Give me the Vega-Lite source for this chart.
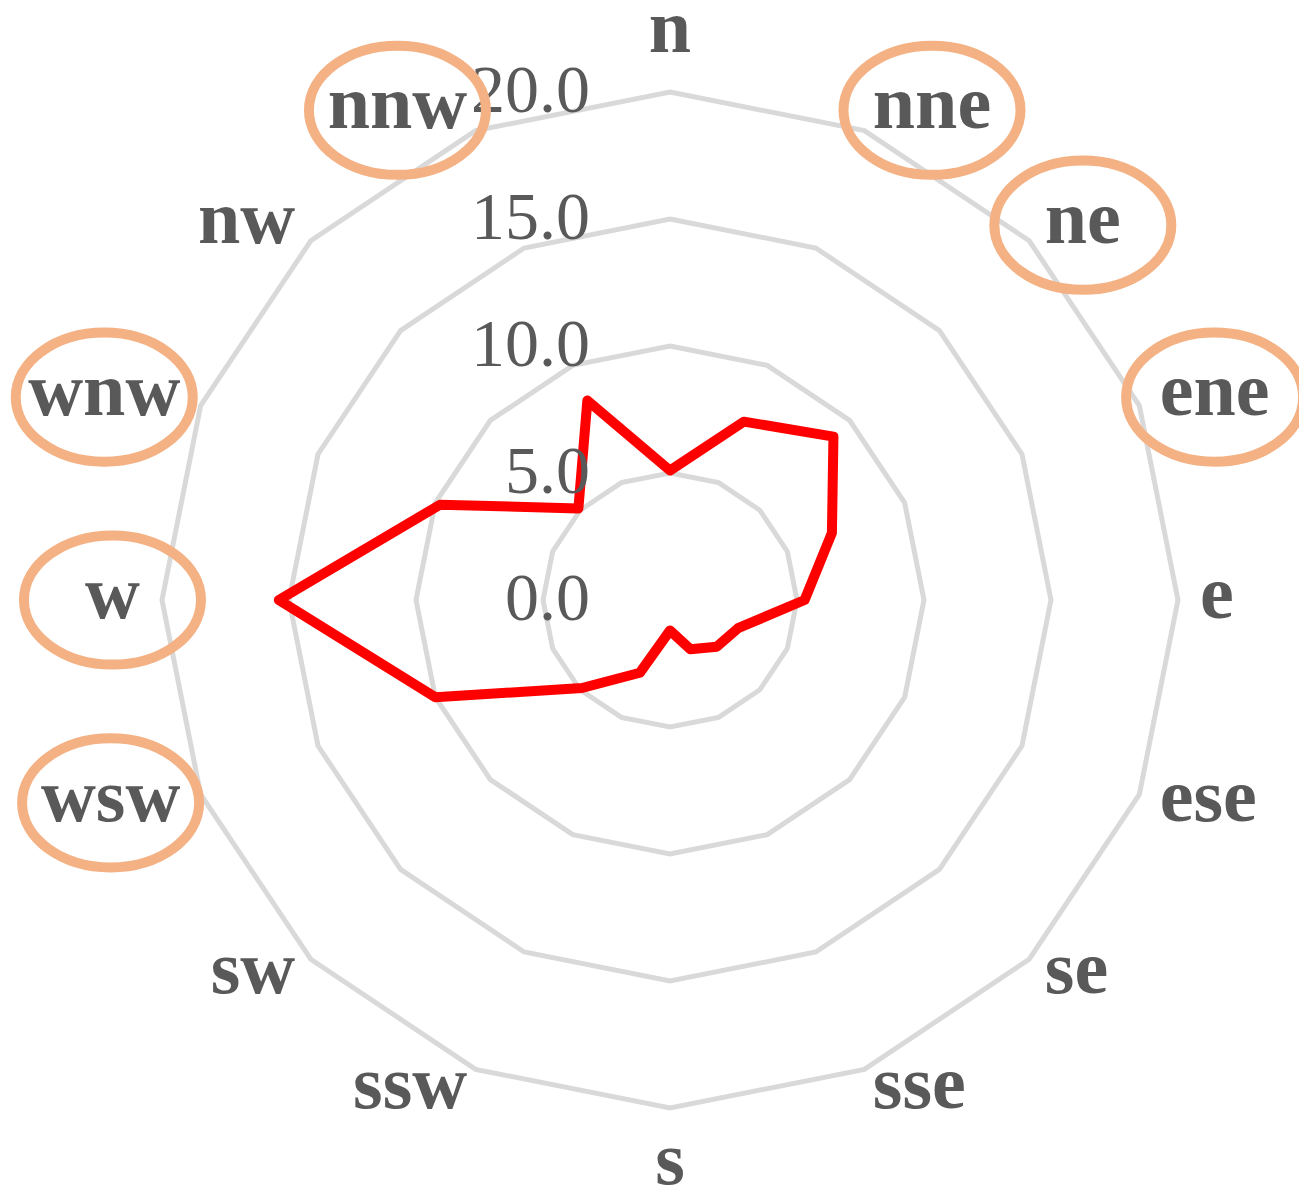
{
  "$schema": "https://vega.github.io/schema/vega-lite/v6.json",
  "width": 1299,
  "height": 1198,
  "autosize": {"type": "none"},
  "padding": 0,
  "background": "white",
  "config": {"view": {"stroke": null}},
  "datasets": {
    "dirs": [
      {"dir": "n", "i": 0, "v": 5.1, "hl": false},
      {"dir": "nne", "i": 1, "v": 7.6, "hl": true},
      {"dir": "ne", "i": 2, "v": 9.1, "hl": true},
      {"dir": "ene", "i": 3, "v": 6.9, "hl": true},
      {"dir": "e", "i": 4, "v": 5.3, "hl": false},
      {"dir": "ese", "i": 5, "v": 2.9, "hl": false},
      {"dir": "se", "i": 6, "v": 2.6, "hl": false},
      {"dir": "sse", "i": 7, "v": 2.1, "hl": false},
      {"dir": "s", "i": 8, "v": 1.2, "hl": false},
      {"dir": "ssw", "i": 9, "v": 3.1, "hl": false},
      {"dir": "sw", "i": 10, "v": 4.9, "hl": false},
      {"dir": "wsw", "i": 11, "v": 10.0, "hl": true},
      {"dir": "w", "i": 12, "v": 15.4, "hl": true},
      {"dir": "wnw", "i": 13, "v": 9.8, "hl": true},
      {"dir": "nw", "i": 14, "v": 5.1, "hl": false},
      {"dir": "nnw", "i": 15, "v": 8.5, "hl": true}
    ],
    "rings": [
      {"ring": 5, "i": [0,1,2,3,4,5,6,7,8,9,10,11,12,13,14,15]},
      {"ring": 10, "i": [0,1,2,3,4,5,6,7,8,9,10,11,12,13,14,15]},
      {"ring": 15, "i": [0,1,2,3,4,5,6,7,8,9,10,11,12,13,14,15]},
      {"ring": 20, "i": [0,1,2,3,4,5,6,7,8,9,10,11,12,13,14,15]}
    ],
    "ticks": [{"t": 0}, {"t": 5}, {"t": 10}, {"t": 15}, {"t": 20}]
  },
  "layer": [
    {
      "data": {"name": "rings"},
      "transform": [
        {"flatten": ["i"]},
        {"calculate": "datum.ring*sin(datum.i*PI/8)", "as": "gx"},
        {"calculate": "datum.ring*cos(datum.i*PI/8)", "as": "gy"}
      ],
      "mark": {"type": "line", "interpolate": "linear-closed", "color": "#D9D9D9", "strokeWidth": 5},
      "encoding": {
        "x": {"field": "gx", "type": "quantitative", "axis": null, "scale": {"domain": [-26.378, 24.764], "nice": false, "zero": false}},
        "y": {"field": "gy", "type": "quantitative", "axis": null, "scale": {"domain": [-23.543, 23.622], "nice": false, "zero": false}},
        "detail": {"field": "ring", "type": "nominal"},
        "order": {"field": "i", "type": "quantitative"}
      }
    },
    {
      "data": {"name": "dirs"},
      "transform": [
        {"calculate": "datum.v*sin(datum.i*PI/8)", "as": "px"},
        {"calculate": "datum.v*cos(datum.i*PI/8)", "as": "py"}
      ],
      "mark": {"type": "line", "interpolate": "linear-closed", "color": "#FF0000", "strokeWidth": 10, "strokeJoin": "round"},
      "encoding": {
        "x": {"field": "px", "type": "quantitative", "axis": null, "scale": {"domain": [-26.378, 24.764], "nice": false, "zero": false}},
        "y": {"field": "py", "type": "quantitative", "axis": null, "scale": {"domain": [-23.543, 23.622], "nice": false, "zero": false}},
        "order": {"field": "i", "type": "quantitative"}
      }
    },
    {
      "data": {"name": "ticks"},
      "mark": {"type": "text", "align": "right", "baseline": "middle", "dx": -80, "fontSize": 68, "font": "Liberation Serif", "color": "#595959"},
      "encoding": {
        "x": {"datum": 0, "type": "quantitative", "axis": null, "scale": {"domain": [-26.378, 24.764], "nice": false, "zero": false}},
        "y": {"field": "t", "type": "quantitative", "axis": null, "scale": {"domain": [-23.543, 23.622], "nice": false, "zero": false}},
        "text": {"field": "t", "type": "quantitative", "format": ".1f"}
      }
    },
    {
      "data": {"name": "dirs"},
      "transform": [
        {"filter": "datum.hl"},
        {"calculate": "(length(replace(datum.dir,regexp('[^w]','g'),''))*0.722+length(replace(datum.dir,regexp('[^n]','g'),''))*0.556+length(replace(datum.dir,regexp('[^e]','g'),''))*0.444+length(replace(datum.dir,regexp('[^s]','g'),''))*0.389)*38/25.4", "as": "hw"},
        {"calculate": "sin(datum.i*PI/8)", "as": "sx"},
        {"calculate": "datum.sx>0.01?1:(datum.sx<-0.01?-1:0)", "as": "side"},
        {"calculate": "20.87*datum.sx+datum.side*datum.hw", "as": "lx"},
        {"calculate": "(datum.side==0?22.56:20.87)*cos(datum.i*PI/8)", "as": "ly"}
      ],
      "mark": {"type": "point", "filled": false, "color": "#F4B183", "opacity": 1, "strokeWidth": 10, "size": 31329, "shape": "M-1,0C-1,-0.403,-0.552,-0.73,0,-0.73C0.552,-0.73,1,-0.403,1,0C1,0.403,0.552,0.73,0,0.73C-0.552,0.73,-1,0.403,-1,0Z"},
      "encoding": {
        "x": {"field": "lx", "type": "quantitative", "axis": null, "scale": {"domain": [-26.378, 24.764], "nice": false, "zero": false}},
        "y": {"field": "ly", "type": "quantitative", "axis": null, "scale": {"domain": [-23.543, 23.622], "nice": false, "zero": false}}
      }
    },
    {
      "data": {"name": "dirs"},
      "transform": [
        {"calculate": "(length(replace(datum.dir,regexp('[^w]','g'),''))*0.722+length(replace(datum.dir,regexp('[^n]','g'),''))*0.556+length(replace(datum.dir,regexp('[^e]','g'),''))*0.444+length(replace(datum.dir,regexp('[^s]','g'),''))*0.389)*38/25.4", "as": "hw"},
        {"calculate": "sin(datum.i*PI/8)", "as": "sx"},
        {"calculate": "datum.sx>0.01?1:(datum.sx<-0.01?-1:0)", "as": "side"},
        {"calculate": "20.87*datum.sx+datum.side*datum.hw", "as": "lx"},
        {"calculate": "(datum.side==0?22.3:20.87)*cos(datum.i*PI/8)", "as": "ly"}
      ],
      "mark": {"type": "text", "align": "center", "baseline": "middle", "dy": -5, "fontSize": 76, "font": "Liberation Serif", "fontWeight": "bold", "color": "#595959"},
      "encoding": {
        "x": {"field": "lx", "type": "quantitative", "axis": null, "scale": {"domain": [-26.378, 24.764], "nice": false, "zero": false}},
        "y": {"field": "ly", "type": "quantitative", "axis": null, "scale": {"domain": [-23.543, 23.622], "nice": false, "zero": false}},
        "text": {"field": "dir", "type": "nominal"}
      }
    }
  ]
}
